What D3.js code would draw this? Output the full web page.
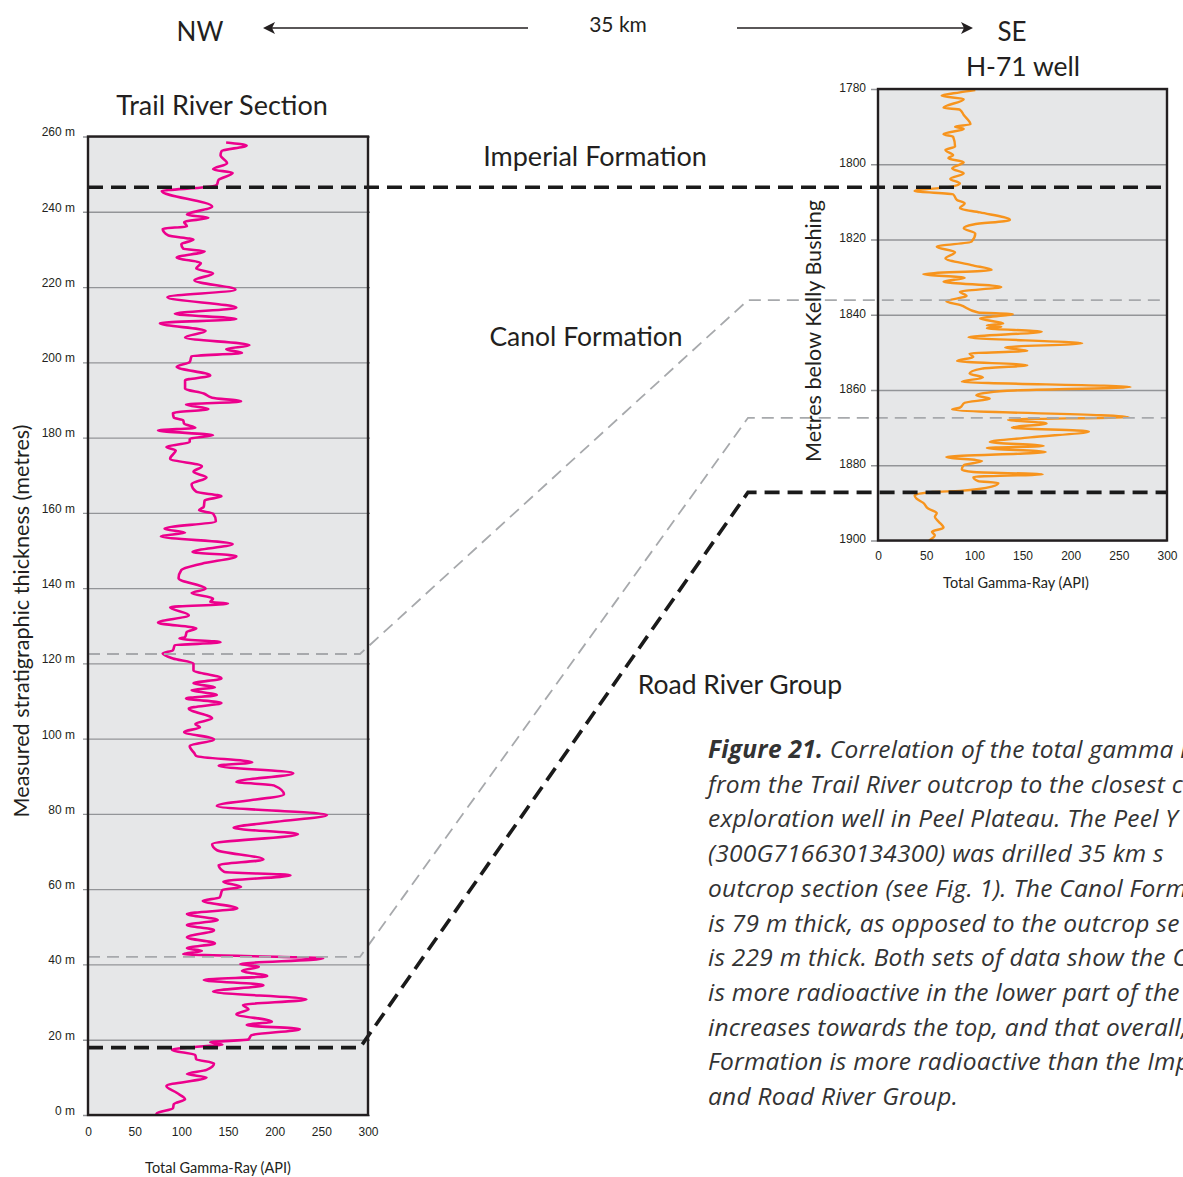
<!DOCTYPE html>
<html>
<head>
<meta charset="utf-8">
<script src="https://cdn.jsdelivr.net/npm/d3@7"></script>
<style>
  body { margin: 0; background: #fff; }
  svg { display: block; font-family: Lato, "Open Sans", sans-serif; }
  .tick text { fill: #231f20; font-size: 12px; }
</style>
</head>
<body>
<svg id="chart" width="1183" height="1177"></svg>
<script>
// Trail River outcrop gamma-ray log: [metres above base, API]
var trailLog = [
  [0,73],[0.5,74],[1.8,91],[2.9,92],[4.2,104],[5.9,95],[7.7,84],[10,127],[10.9,106],[12,127],
  [13.7,135],[14.8,116],[15.9,115],[17.3,90],[18.2,120],[18.7,144],[19.3,131],[20.1,172],[21.2,175],
  [22.8,227],[23.9,170],[24.8,197],[26.8,159],[28.1,172],[29.2,166],[30.7,234],[32.8,134],[34.5,188],
  [35.9,124],[36.9,192],[38.3,165],[39.4,183],[40.1,163],[41.6,252],[42.8,102],[43.6,122],[44.3,106],
  [45.6,136],[47.2,106],[49.1,135],[50.5,106],[51.8,139],[53.4,106],[54.9,160],[56.9,123],[57.8,141],
  [59.8,144],[60.6,164],[62,145],[63.7,217],[64.6,146],[66.4,140],[67.9,188],[70.4,138],[72,133],
  [74.6,225],[76.3,156],[77.9,202],[79.7,256],[82.1,138],[85.2,210],[87.6,199],[88.5,159],[90.8,220],
  [92.8,140],[93.7,176],[95.4,116],[96.1,114],[98,109],[99.8,135],[101.8,103],[103,120],[103.9,115],
  [105.4,133],[108,108],[109.5,143],[110.7,105],[111.6,138],[112.9,111],[113.6,136],[114.7,113],
  [116,143],[118.2,113],[120,113],[121.3,91],[122.6,80],[123.5,91],[124.8,93],[125.6,142],[126.6,98],
  [127,104],[128.4,106],[129.3,116],[130.8,75],[132.8,108],[134.9,88],[135.9,150],[136.3,131],
  [137.2,134],[138.7,111],[139.8,126],[142.6,97],[144.8,100],[146.5,122],[148.5,159],[149.6,112],
  [151.7,155],[153.8,78],[154.7,104],[155.8,82],[157.8,137],[159.8,134],[160.7,119],[161.6,124],
  [163.3,125],[164.4,143],[165.6,116],[167.6,111],[169.4,127],[170.9,113],[172.4,122],[174.4,88],
  [176.6,94],[177.5,84],[178.8,109],[179.7,109],[180.6,134],[181.9,75],[182.6,115],[183.7,103],
  [184.6,102],[185.3,92],[186.5,91],[187.6,129],[188.8,105],[189.6,164],[190.6,133],[191.7,124],
  [193,104],[195.2,104],[196.5,131],[198.8,95],[200.1,109],[201.6,111],[202.5,165],[203.5,148],
  [204.5,173],[206.6,104],[208.3,126],[210.4,77],[211.5,159],[212.9,93],[214.5,159],[217.3,85],
  [219.3,158],[221.8,114],[223.6,134],[224.9,116],[226.4,121],[227.8,95],[229.5,125],[230.2,102],
  [231.4,100],[232.6,113],[233.7,86],[235.5,80],[236.1,106],[237.3,103],[238.4,129],[239.2,106],
  [241.4,133],[245.5,79],[246.5,125],[247.2,138],[248.5,140],[250.3,155],[251.3,134],[252.9,149],
  [255,142],[256.1,143],[257.6,170],[258.4,148]
];

// H-71 well gamma-ray log: [metres below KB, API]
var wellLog = [
  [1780.3,101],[1780.9,85],[1781.8,66],[1782.7,89],[1785,68],[1785.5,85],[1786.9,89],[1789.4,96],
  [1790,80],[1790.6,89],[1792,68],[1792.7,78],[1795.3,80],[1796.2,70],[1797.6,78],[1798.4,73],
  [1799.5,89],[1801.1,77],[1802.4,89],[1803.9,75],[1805.1,85],[1806,75],[1807.1,38],[1808,78],
  [1809.5,82],[1810.4,90],[1811.7,85],[1812.8,106],[1814.8,137],[1816,99],[1817,89],[1818.4,101],
  [1820.6,97],[1821.9,61],[1823.4,80],[1825,70],[1826.8,97],[1828.1,118],[1829.2,47],[1830.2,90],
  [1831.2,68],[1832.6,128],[1833.9,85],[1835,92],[1836.4,71],[1837.4,85],[1839.4,104],[1839.8,140],
  [1841,106],[1842.3,130],[1842.8,113],[1843.2,128],[1843.6,113],[1844.5,170],[1846,94],[1847.6,212],
  [1848.7,132],[1849.6,155],[1850.3,95],[1851.2,99],[1852.3,82],[1853.4,155],[1854.3,108],[1855.6,95],
  [1856.7,109],[1857.8,87],[1859.2,262],[1860.2,134],[1861.4,102],[1862.3,116],[1863.4,90],[1864.7,85],
  [1865.2,77],[1867.2,260],[1867.9,135],[1868.9,175],[1870,139],[1871,219],[1872.6,158],[1873.8,116],
  [1874.9,172],[1875.4,113],[1876.5,174],[1877.8,71],[1878.9,108],[1880,89],[1881.1,87],[1881.8,99],
  [1882.4,171],[1883.1,99],[1884.2,104],[1884.7,125],[1885.7,118],[1886.8,85],[1887.1,57],[1888,38],
  [1888.9,40],[1890,47],[1891.5,52],[1892.7,61],[1893.7,59],[1895,63],[1896.6,68],[1897.7,56],
  [1898.6,59],[1900,53]
];

var grTicks = [0, 50, 100, 150, 200, 250, 300];
var trailTicks = d3.range(0, 261, 20);
var wellTicks = d3.range(1780, 1901, 20);

// formation tops: trail depth, well depth, major (black) or minor (grey)
var topsTrail = [246.5, 122.5, 42.0, 17.9];
var topsWell = [1806.1, 1836.1, 1867.4, 1887.2];
var topsMajor = [true, false, false, true];

var captionLines = [
  ["Figure 21.", " Correlation of the total gamma r"],
  ["", "from the Trail River outcrop to the closest c"],
  ["", "exploration well in Peel Plateau. The Peel Y"],
  ["", "(300G716630134300) was drilled 35 km s"],
  ["", "outcrop section (see Fig. 1). The Canol Form"],
  ["", "is 79 m thick, as opposed to the outcrop se"],
  ["", "is 229 m thick. Both sets of data show the C"],
  ["", "is more radioactive in the lower part of the"],
  ["", "increases towards the top, and that overall,"],
  ["", "Formation is more radioactive than the Imp"],
  ["", "and Road River Group."]
];

var svg = d3.select('#chart');
var ink = '#231f20';

var xL = d3.scaleLinear().domain([0, 300]).range([88, 368]);
var yL = d3.scaleLinear().domain([0, 260]).range([1115, 136.5]);
var xR = d3.scaleLinear().domain([0, 300]).range([878, 1167]);
var yR = d3.scaleLinear().domain([1780, 1900]).range([89, 540.5]);

// panel backgrounds
svg.append('rect').attr('x', 88).attr('y', 136.5).attr('width', 280).attr('height', 978.5)
  .attr('fill', '#e6e7e8');
svg.append('rect').attr('x', 878).attr('y', 89).attr('width', 289).attr('height', 451.5)
  .attr('fill', '#e6e7e8');

// y axes with grid lines
var axL = svg.append('g').attr('transform', 'translate(83,0)')
  .call(d3.axisLeft(yL).tickValues(trailTicks).tickFormat(function (d) { return d + ' m'; })
    .tickSize(-287).tickPadding(8));
axL.select('.domain').remove();
axL.selectAll('.tick line').attr('stroke', '#939598').attr('stroke-width', 1.3);
axL.selectAll('.tick text').attr('dy', '-0.05em');

var axR = svg.append('g').attr('transform', 'translate(871,0)')
  .call(d3.axisLeft(yR).tickValues(wellTicks).tickSize(-296).tickPadding(5).tickFormat(d3.format('d')));
axR.select('.domain').remove();
axR.selectAll('.tick line').attr('stroke', '#939598').attr('stroke-width', 1.3);
axR.selectAll('.tick text').attr('dy', '0.2em');

// x axes
var bxL = svg.append('g').attr('transform', 'translate(0,1115)')
  .call(d3.axisBottom(xL).tickValues(grTicks).tickSize(0).tickPadding(12));
bxL.select('.domain').remove();
var bxR = svg.append('g').attr('transform', 'translate(0,540.5)')
  .call(d3.axisBottom(xR).tickValues(grTicks).tickSize(0).tickPadding(11));
bxR.select('.domain').remove();

// gamma-ray curves
var lineL = d3.line()
  .x(function (d) { return xL(d[1]); })
  .y(function (d) { return yL(d[0]); })
  .curve(d3.curveMonotoneY);
var lineR = d3.line()
  .x(function (d) { return xR(d[1]); })
  .y(function (d) { return yR(d[0]); })
  .curve(d3.curveMonotoneY);

svg.append('path').datum(trailLog).attr('d', lineL)
  .attr('fill', 'none').attr('stroke', '#ec008c').attr('stroke-width', 2.6)
  .attr('stroke-linejoin', 'round');
svg.append('path').datum(wellLog).attr('d', lineR)
  .attr('fill', 'none').attr('stroke', '#f7941d').attr('stroke-width', 2.4)
  .attr('stroke-linejoin', 'round');

// correlation lines
topsTrail.forEach(function (t, i) {
  var yl = yL(t), yr = yR(topsWell[i]);
  var p = d3.path();
  p.moveTo(88, yl);
  p.lineTo(360, yl);
  p.lineTo(748, yr);
  p.lineTo(1166, yr);
  svg.append('path').attr('d', p.toString()).attr('fill', 'none')
    .attr('stroke', topsMajor[i] ? '#1a1a1a' : '#a7a9ac')
    .attr('stroke-width', topsMajor[i] ? 3.6 : 1.8)
    .attr('stroke-dasharray', topsMajor[i] ? '15,8' : '12,7');
});

// panel borders
svg.append('rect').attr('x', 88).attr('y', 136.5).attr('width', 280).attr('height', 978.5)
  .attr('fill', 'none').attr('stroke', ink).attr('stroke-width', 2.4);
svg.append('rect').attr('x', 878).attr('y', 89).attr('width', 289).attr('height', 451.5)
  .attr('fill', 'none').attr('stroke', ink).attr('stroke-width', 2.4);

// titles and labels
var label = function (txt, x, y, size, rot) {
  var t = svg.append('text').attr('text-anchor', 'middle').attr('fill', ink)
    .style('font-size', size + 'px').text(txt);
  if (rot) t.attr('transform', 'translate(' + x + ',' + y + ') rotate(-90)');
  else t.attr('x', x).attr('y', y);
  return t;
};
label('NW', 200, 41, 26);
label('SE', 1012, 41, 26);
label('35 km', 618, 32, 21);
label('H-71 well', 1023, 76, 26.5);
label('Trail River Section', 222, 115, 27);
label('Imperial Formation', 595, 166, 27);
label('Canol Formation', 586, 346, 26.5);
label('Road River Group', 740, 694, 26.5);
label('Measured stratigraphic thickness (metres)', 29, 621, 21.6, true);
label('Metres below Kelly Bushing', 821, 331, 21.6, true);
label('Total Gamma-Ray (API)', 218, 1173, 14.5);
label('Total Gamma-Ray (API)', 1016, 588, 14.5);

// distance arrows
svg.append('line').attr('x1', 266).attr('x2', 528).attr('y1', 28).attr('y2', 28)
  .attr('stroke', ink).attr('stroke-width', 1.3);
svg.append('path').attr('d', 'M263,28L275,22L272,28L275,34Z').attr('fill', ink);
svg.append('line').attr('x1', 737).attr('x2', 970).attr('y1', 28).attr('y2', 28)
  .attr('stroke', ink).attr('stroke-width', 1.3);
svg.append('path').attr('d', 'M973,28L961,22L964,28L961,34Z').attr('fill', ink);

// caption
var cap = svg.append('g').attr('transform', 'translate(708,0)');
captionLines.forEach(function (ln, i) {
  var t = cap.append('text').attr('x', 0).attr('y', 758 + i * 34.7)
    .attr('fill', '#333').style('font-family', '"Open Sans", sans-serif')
    .style('font-size', '24.5px').style('font-style', 'italic')
    .style('letter-spacing', '0.25px');
  if (ln[0]) t.append('tspan').style('font-weight', 'bold').text(ln[0]);
  t.append('tspan').text(ln[1]);
});
</script>
</body>
</html>
